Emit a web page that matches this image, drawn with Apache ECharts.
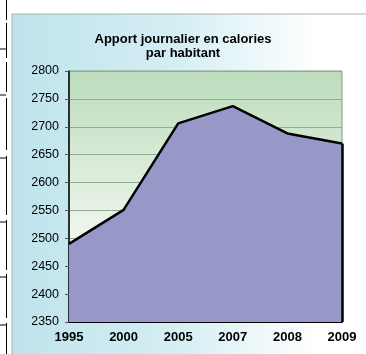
<!DOCTYPE html>
<html><head><meta charset="utf-8">
<script src="https://cdn.jsdelivr.net/npm/echarts@6/dist/echarts.min.js"></script>
<style>html,body{margin:0;padding:0;background:#fff}#c{width:366px;height:354px}</style>
</head><body><div id="c"></div>
<script>
var categories = ['1995','2000','2005','2007','2008','2009'];
var calories = [2490, 2551, 2706, 2737, 2688, 2670];
var yTicks = [2350, 2400, 2450, 2500, 2550, 2600, 2650, 2700, 2750, 2800];
var titleText = 'Apport journalier en calories\npar habitant';

var chart = echarts.init(document.getElementById('c'), null, {renderer:'canvas'});
var lastCat = categories[categories.length-1];
var lastVal = calories[calories.length-1];
var yMin = yTicks[0], yMax = yTicks[yTicks.length-1];

var leftMarks = [];
[49, 95, 158, 222, 277, 325].forEach(function(y){
  leftMarks.push({type:'line', shape:{x1:0,y1:y,x2:6,y2:y}, style:{stroke:'#000', lineWidth:1}, silent:true});
});
var vSegs = [[0,20],[23,58],[62,92],[98,150],[156,215],[220,270],[274,318],[323,354]];
vSegs.forEach(function(s){
  leftMarks.push({type:'line', shape:{x1:6.5,y1:s[0],x2:6.5,y2:s[1]}, style:{stroke:'#000', lineWidth:1}, silent:true});
});

var font = 'Liberation Sans, Arial, sans-serif';
chart.setOption({
  animation:false,
  graphic: [
    {type:'rect', z:-10, shape:{x:12, y:14, width:360, height:345},
     style:{fill:new echarts.graphic.LinearGradient(0,0,1,0,[
       {offset:0,color:'#bfe3ec'},{offset:0.45,color:'#d4eef3'},{offset:0.85,color:'#ffffff'},{offset:1,color:'#ffffff'}]),
       stroke:'#a8b0b0', lineWidth:1}, silent:true}
  ].concat(leftMarks),
  title:{text:titleText, left:178, top:27, textAlign:'center',
    textStyle:{fontFamily:font, fontSize:13, fontWeight:'bold', color:'#000', lineHeight:14}},
  grid:{left:69, top:71, right:24, bottom:32, show:true,
    backgroundColor:new echarts.graphic.LinearGradient(0,0,0,1,[
      {offset:0,color:'#bcdcbc'},{offset:0.7,color:'#f2f8f0'},{offset:1,color:'#ffffff'}]),
    borderColor:'#7f9c7f', borderWidth:1},
  xAxis:{type:'category', data:categories, boundaryGap:false,
    axisLine:{lineStyle:{color:'#000', width:2}},
    axisTick:{show:true, inside:true, length:3, lineStyle:{color:'#888'}},
    axisLabel:{fontFamily:font, fontSize:13, fontWeight:'bold', color:'#000', margin:9}},
  yAxis:{type:'value', min:yMin, max:yMax, interval:50,
    axisLine:{show:true, lineStyle:{color:'#000', width:1.5}},
    axisTick:{show:true, length:4, lineStyle:{color:'#555'}},
    splitLine:{lineStyle:{color:'#93ad93', width:1}},
    axisLabel:{fontFamily:font, fontSize:12.5, color:'#000', margin:10, formatter:function(v){return String(v);}}},
  series:[{type:'line', data:calories, symbol:'none',
    lineStyle:{color:'#000', width:2.5},
    areaStyle:{color:'#9797c8', opacity:1},
    markLine:{symbol:'none', silent:true, label:{show:false},
      lineStyle:{color:'#000', width:2.5, type:'solid'},
      data:[[{coord:[lastCat, yMin]},{coord:[lastCat, lastVal]}]]}
  }]
});
</script></body></html>
